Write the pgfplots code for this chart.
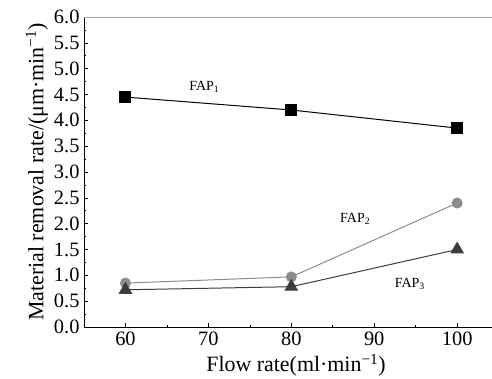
\documentclass[border=0pt]{standalone}
\usepackage{fontspec}
\setmainfont{Liberation Serif}
\usepackage{pgfplots}
\pgfplotsset{compat=1.18}
\definecolor{gtwo}{RGB}{140,140,140}
\definecolor{gthree}{RGB}{60,60,60}
\begin{document}
\begin{tikzpicture}[x=1bp,y=1bp]
\begin{axis}[
  scale only axis, width=408bp, height=310bp,
  xmin=55, xmax=104.2, ymin=0, ymax=6,
  axis x line*=bottom, axis y line*=left,
  axis line style={black, line width=0.8pt, -},
  xtick={60,70,80,90,100}, minor x tick num=1,
  ytick={0,0.5,...,6.0}, minor y tick num=1,
  tick align=inside, tick style={black, line width=0.6pt},
  major tick length=4pt, minor tick length=2.5pt,
  /pgf/number format/assume math mode=true,
  ticklabel style={font=\fontsize{20.5}{22}\selectfont},
  xticklabel style={yshift=-1pt},
  yticklabel style={xshift=-1pt, /pgf/number format/.cd, fixed, fixed zerofill, precision=1},
  label style={font=\fontsize{22}{23}\selectfont},
  xlabel={Flow rate(ml·min\textsuperscript{−1})},
  ylabel={Material removal rate/(μm·min\textsuperscript{−1})},
  xlabel style={yshift=-2pt, xshift=8bp},
  ylabel style={yshift=-1pt},
  clip=false,
]
\addplot[black, line width=1pt, mark=square*, mark size=5.5pt, mark options={solid, fill=black}]
  coordinates {(60,4.45) (80,4.2) (100,3.85)};
\addplot[gtwo, line width=1pt, mark=*, mark size=5pt, mark options={solid, fill=gtwo}]
  coordinates {(60,0.85) (80,0.97) (100,2.4)};
\addplot[gthree, line width=1pt, mark=triangle*, mark size=7pt, mark options={solid, fill=gthree}]
  coordinates {(60,0.72) (80,0.78) (100,1.5)};
\node[font=\fontsize{14}{15}\selectfont] at (axis cs:69.5,4.65) {FAP\textsubscript{1}};
\node[font=\fontsize{14}{15}\selectfont] at (axis cs:87.7,2.09) {FAP\textsubscript{2}};
\node[font=\fontsize{14}{15}\selectfont] at (axis cs:94.3,0.83) {FAP\textsubscript{3}};
\draw[gray!70, line width=1pt] (rel axis cs:0,1) -- (rel axis cs:1,1);
\coordinate (bl) at (rel axis cs:0,0);
\coordinate (tr) at (rel axis cs:1,1);
\end{axis}
\pgfresetboundingbox
\path[use as bounding box] ([xshift=-84bp,yshift=-52bp]bl) rectangle ([yshift=17bp]tr);
\end{tikzpicture}
\end{document}
